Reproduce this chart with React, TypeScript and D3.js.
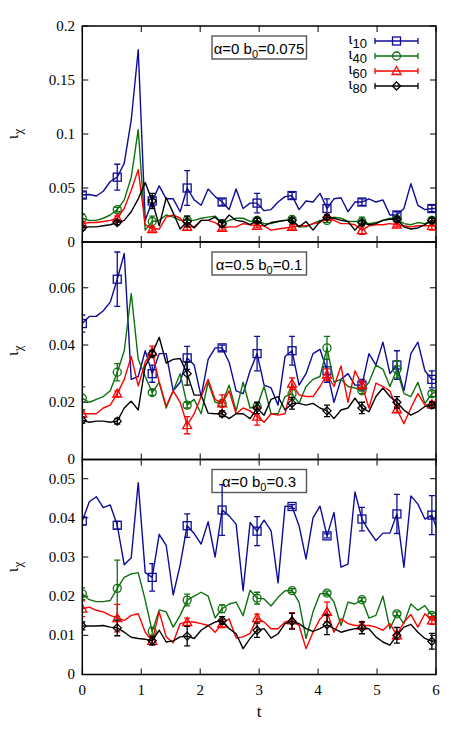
import React from 'react';
import * as d3 from 'd3';

// sampling times (regular grid)
const T_STEP = 0.1186;
const T = d3.range(52).map((i) => i * T_STEP);
const MARK_IDX = d3.range(0, 51, 5);
const X_TICKS = [0, 1, 2, 3, 4, 5, 6];

// ---- panel 1 : alpha=0 b0=0.075
const B1 = [0.0435,0.044,0.0426,0.047,0.056,0.060,0.073,0.113,0.178,0.020, 0.038,0.052,0.040,0.040,0.028,0.050,0.039,0.034,0.049,0.042, 0.037,0.030,0.049,0.031,0.036,0.036,0.029,0.030,0.037,0.042, 0.043,0.030,0.038,0.037,0.045,0.031,0.040,0.041,0.028,0.037, 0.037,0.040,0.037,0.039,0.025,0.025,0.031,0.054,0.034,0.030, 0.031,0.031];
const G1 = [0.022,0.020,0.020,0.022,0.025,0.030,0.039,0.060,0.104,0.011, 0.019,0.020,0.025,0.023,0.020,0.020,0.020,0.022,0.023,0.024, 0.017,0.020,0.022,0.022,0.019,0.020,0.017,0.017,0.019,0.020, 0.021,0.014,0.014,0.017,0.020,0.020,0.023,0.022,0.019,0.019, 0.019,0.017,0.018,0.020,0.022,0.021,0.017,0.016,0.018,0.017, 0.020,0.020];
const R1 = [0.017,0.018,0.018,0.019,0.020,0.022,0.031,0.048,0.067,0.016, 0.012,0.012,0.023,0.025,0.022,0.014,0.014,0.020,0.020,0.018, 0.013,0.014,0.014,0.017,0.016,0.015,0.015,0.011,0.012,0.013, 0.014,0.015,0.015,0.017,0.018,0.023,0.020,0.017,0.017,0.016, 0.011,0.015,0.016,0.016,0.017,0.016,0.015,0.014,0.015,0.015, 0.015,0.015];
const K1 = [0.013,0.014,0.014,0.015,0.016,0.018,0.020,0.028,0.040,0.055, 0.038,0.015,0.041,0.027,0.012,0.019,0.013,0.020,0.020,0.023, 0.017,0.025,0.020,0.019,0.016,0.020,0.015,0.018,0.019,0.020, 0.020,0.014,0.019,0.011,0.019,0.023,0.022,0.020,0.019,0.011, 0.018,0.016,0.017,0.020,0.021,0.021,0.014,0.012,0.013,0.016, 0.020,0.020];
const EB1 = [0.003,0.012,0.005,0.016,0.003,0.009,0.003,0.009,0.003,0.003,0.003];
const EG1 = [0.004,0.002,0.005,0.004,0.002,0.002,0.002,0.002,0.004,0.002,0.002];
const ER1 = [0.002,0.002,0.002,0.003,0.002,0.002,0.002,0.002,0.004,0.002,0.004];
const EK1 = [0.002,0.002,0.007,0.005,0.003,0.002,0.002,0.002,0.002,0.002,0.002];

// ---- panel 2 : alpha=0.5 b0=0.1
const B2 = [0.0475,0.050,0.050,0.052,0.055,0.063,0.072,0.028,0.029,0.038, 0.030,0.037,0.037,0.024,0.027,0.0355,0.033,0.022,0.035,0.039, 0.039,0.034,0.024,0.023,0.031,0.037,0.026,0.025,0.019,0.036, 0.038,0.026,0.030,0.037,0.0385,0.031,0.020,0.028,0.030,0.026, 0.026,0.037,0.033,0.041,0.030,0.033,0.024,0.037,0.041,0.031, 0.028,0.028];
const G2 = [0.0214,0.020,0.021,0.022,0.024,0.0305,0.038,0.058,0.035,0.029, 0.0234,0.027,0.018,0.024,0.030,0.019,0.021,0.016,0.027,0.020, 0.0196,0.026,0.017,0.027,0.018,0.0185,0.0255,0.016,0.016,0.022, 0.023,0.0196,0.0255,0.028,0.029,0.039,0.027,0.028,0.0255,0.025, 0.024,0.027,0.033,0.0315,0.0255,0.0315,0.023,0.022,0.027,0.0196, 0.023,0.024];
const R2 = [0.016,0.016,0.016,0.018,0.019,0.023,0.028,0.036,0.0257,0.034, 0.0376,0.027,0.0187,0.024,0.020,0.012,0.016,0.022,0.028,0.021, 0.0196,0.024,0.016,0.018,0.017,0.015,0.013,0.016,0.0155,0.016, 0.0265,0.0226,0.022,0.022,0.0255,0.0297,0.0255,0.0327,0.020,0.031, 0.026,0.018,0.0267,0.0255,0.024,0.0175,0.0125,0.018,0.023,0.019, 0.0193,0.0193];
const K2 = [0.0137,0.013,0.0134,0.0134,0.013,0.0134,0.018,0.0204,0.0173,0.0326, 0.037,0.0427,0.0337,0.035,0.0353,0.030,0.0225,0.0225,0.0162,0.016, 0.016,0.0143,0.016,0.016,0.0143,0.018,0.0155,0.021,0.022,0.0173, 0.0196,0.0196,0.019,0.0196,0.018,0.017,0.0143,0.0173,0.018,0.0214, 0.018,0.0167,0.022,0.025,0.022,0.020,0.0173,0.0155,0.0167,0.0185, 0.019,0.019];
const EB2 = [0.003,0.0095,0.003,0.004,0.001,0.006,0.005,0.004,0.002,0.005,0.003];
const EG2 = [0.004,0.003,0.001,0.001,0.001,0.001,0.002,0.004,0.001,0.003,0.001];
const ER2 = [0.001,0.001,0.002,0.003,0.003,0.003,0.002,0.002,0.001,0.001,0.001];
const EK2 = [0.001,0.001,0.001,0.004,0.001,0.002,0.002,0.002,0.002,0.002,0.001];

// ---- panel 3 : alpha=0 b0=0.3
const B3 = [0.0392,0.0441,0.0454,0.0426,0.0433,0.0381,0.028,0.0298,0.049,0.026, 0.0248,0.0358,0.033,0.0203,0.028,0.038,0.036,0.0333,0.039,0.030, 0.042,0.0405,0.0384,0.0214,0.0388,0.0366,0.0394,0.0367,0.0234,0.043, 0.0429,0.038,0.0295,0.040,0.043,0.0354,0.0414,0.0274,0.0282,0.0466, 0.0397,0.0367,0.0342,0.0361,0.0361,0.041,0.0274,0.0456,0.0435,0.0397, 0.0407,0.0358];
const G3 = [0.0206,0.0191,0.0186,0.0186,0.0189,0.022,0.0248,0.0257,0.026,0.019, 0.011,0.0165,0.016,0.0121,0.0151,0.019,0.020,0.021,0.020,0.0145, 0.0168,0.018,0.0185,0.015,0.0215,0.0195,0.0193,0.0175,0.0197,0.0214, 0.0214,0.0185,0.0092,0.016,0.0206,0.0208,0.0185,0.0125,0.0185,0.018, 0.0191,0.0144,0.0151,0.020,0.0117,0.0155,0.013,0.018,0.0164,0.0176, 0.0151,0.0147];
const R3 = [0.0168,0.0172,0.0164,0.016,0.0151,0.0144,0.0138,0.0151,0.0155,0.0108, 0.0086,0.016,0.0096,0.0081,0.013,0.0134,0.0134,0.013,0.0125,0.0108, 0.013,0.0142,0.0093,0.0096,0.0105,0.0144,0.0134,0.0117,0.0117,0.0134, 0.0138,0.0125,0.0066,0.0108,0.0142,0.016,0.0108,0.0142,0.013,0.0125, 0.0125,0.0125,0.0121,0.0113,0.013,0.01,0.0134,0.0153,0.0121,0.0155, 0.0138,0.0147];
const K3 = [0.0124,0.0124,0.0124,0.0125,0.0121,0.0119,0.0108,0.0095,0.0092,0.009, 0.0086,0.0113,0.0083,0.0086,0.0096,0.0098,0.0092,0.0113,0.0125,0.0134, 0.0138,0.0117,0.0104,0.0066,0.0092,0.0113,0.0117,0.0093,0.0104,0.013, 0.0136,0.013,0.0117,0.011,0.0117,0.0127,0.0117,0.0108,0.0113,0.0117, 0.0119,0.0117,0.0096,0.0083,0.0075,0.01,0.0121,0.0128,0.0108,0.0092, 0.0085,0.0087];
const EB3 = [0.001,0.001,0.0035,0.003,0.0065,0.0037,0.0005,0.0005,0.003,0.005,0.005];
const EG3 = [0.0015,0.0072,0.001,0.0015,0.001,0.0015,0.0005,0.0005,0.0005,0.0005,0.0005];
const ER3 = [0.002,0.0035,0.001,0.001,0.001,0.001,0.002,0.0025,0.001,0.001,0.001];
const EK3 = [0.001,0.002,0.001,0.0025,0.001,0.0018,0.002,0.0025,0.0015,0.002,0.002];

const SERIES_NAMES = ['10', '40', '60', '80'];
const COLORS = ['#0c0c98', '#0f700f', '#ff0000', '#000000'];
const SHAPES = ['square', 'circle', 'triangle', 'diamond'];

const Y1_TICKS = [0, 0.05, 0.1, 0.15, 0.2];
const Y2_TICKS = [0, 0.02, 0.04, 0.06];
const Y3_TICKS = [0, 0.01, 0.02, 0.03, 0.04, 0.05];

const PANELS = [
  { alpha: '0', b0: '0.075', top: 26, bottom: 242, ymax: 0.2, ticks: Y1_TICKS, lines: [B1, G1, R1, K1], errs: [EB1, EG1, ER1, EK1], legend: true },
  { alpha: '0.5', b0: '0.1', top: 242, bottom: 459.5, ymax: 0.076, ticks: Y2_TICKS, lines: [B2, G2, R2, K2], errs: [EB2, EG2, ER2, EK2], legend: false },
  { alpha: '0', b0: '0.3', top: 459.5, bottom: 674.5, ymax: 0.0549, ticks: Y3_TICKS, lines: [B3, G3, R3, K3], errs: [EB3, EG3, ER3, EK3], legend: false },
];

const X0 = 82.3;
const X1 = 436;
const x = d3.scaleLinear().domain([0, 6]).range([X0, X1]);

function Marker({ shape, cx, cy, color }: { shape: string; cx: number; cy: number; color: string }) {
  const sw = 1.3;
  if (shape === 'square') return <rect x={cx - 4} y={cy - 4} width={8} height={8} fill="none" stroke={color} strokeWidth={sw} />;
  if (shape === 'circle') return <circle cx={cx} cy={cy} r={4} fill="none" stroke={color} strokeWidth={sw} />;
  if (shape === 'triangle') return <path d={`M${cx},${cy - 4.5}L${cx + 4.5},${cy + 3.5}L${cx - 4.5},${cy + 3.5}Z`} fill="none" stroke={color} strokeWidth={sw} />;
  return <path d={`M${cx},${cy - 4}L${cx + 4},${cy}L${cx},${cy + 4}L${cx - 4},${cy}Z`} fill="none" stroke={color} strokeWidth={sw} />;
}

function Panel({ p, idx }: { p: any; idx: number }) {
  const y = d3.scaleLinear().domain([0, p.ymax]).range([p.bottom, p.top]);
  const line = d3.line<number>().x((_, i) => x(T[i])).y((d) => y(d));
  const clipId = `clip${idx}`;
  const fmt = (v: number) => (v === 0 ? '0' : String(+v.toFixed(3)));
  return (
    <g>
      <defs>
        <clipPath id={clipId}>
          <rect x={X0} y={p.top} width={X1 - X0} height={p.bottom - p.top} />
        </clipPath>
      </defs>
      {p.ticks.map((v: number) => (
        <g key={'yt' + v}>
          <line x1={X0} x2={X0 + 6} y1={y(v)} y2={y(v)} stroke="#000" strokeWidth={1} />
          <line x1={X1 - 6} x2={X1} y1={y(v)} y2={y(v)} stroke="#000" strokeWidth={1} />
          <text x={75} y={y(v)} dy="0.33em" textAnchor="end" fontFamily="'Liberation Serif', serif" fontSize={15}>{fmt(v)}</text>
        </g>
      ))}
      {X_TICKS.map((v) => (
        <g key={'xt' + v}>
          <line x1={x(v)} x2={x(v)} y1={p.top} y2={p.top + 6} stroke="#000" strokeWidth={1} />
          <line x1={x(v)} x2={x(v)} y1={p.bottom - 6} y2={p.bottom} stroke="#000" strokeWidth={1} />
        </g>
      ))}
      <rect x={212} y={p.top + 10} width={94.5} height={23} fill="#fff" stroke="#555" strokeWidth={1.4} />
      <text x={259} y={p.top + 27.5} textAnchor="middle" fontFamily="'Liberation Sans', Arial, sans-serif" fontSize={15}>
        {'α=' + p.alpha + ' b'}
        <tspan fontSize={11} dy={4}>0</tspan>
        <tspan dy={-4}>{'=' + p.b0}</tspan>
      </text>
      <g clipPath={`url(#${clipId})`}>
        {p.lines.map((vals: number[], si: number) => (
          <g key={si}>
            <path d={line(vals) || ''} fill="none" stroke={COLORS[si]} strokeWidth={1.4} strokeLinejoin="round" />
            {MARK_IDX.map((mi, k) => {
              const cx = x(T[mi]);
              const v = vals[mi];
              const e = p.errs[si][k];
              const ya = y(v - e);
              const yb = y(v + e);
              return (
                <g key={mi}>
                  <line x1={cx} x2={cx} y1={ya} y2={yb} stroke={COLORS[si]} strokeWidth={1.3} />
                  <line x1={cx - 3} x2={cx + 3} y1={ya} y2={ya} stroke={COLORS[si]} strokeWidth={1.3} />
                  <line x1={cx - 3} x2={cx + 3} y1={yb} y2={yb} stroke={COLORS[si]} strokeWidth={1.3} />
                  <Marker shape={SHAPES[si]} cx={cx} cy={y(v)} color={COLORS[si]} />
                </g>
              );
            })}
          </g>
        ))}
      </g>
      <rect x={X0} y={p.top} width={X1 - X0} height={p.bottom - p.top} fill="none" stroke="#000" strokeWidth={1.5} />
      <text transform={`translate(18,${(p.top + p.bottom) / 2}) rotate(-90)`} textAnchor="middle" fontFamily="'Liberation Serif', serif" fontSize={17}>
        ι<tspan fontSize={13} dy={4}>χ</tspan>
      </text>
      {p.legend &&
        SERIES_NAMES.map((nm, si) => {
          const ly = 41 + si * 15;
          return (
            <g key={'lg' + si}>
              <text x={367} y={ly + 3} textAnchor="end" fontFamily="'Liberation Serif', serif" fontSize={16}>
                ι<tspan dy={4} fontSize={13} fontFamily="'Liberation Sans', Arial, sans-serif">{nm}</tspan>
              </text>
              <line x1={375} x2={418} y1={ly} y2={ly} stroke={COLORS[si]} strokeWidth={1.4} />
              <line x1={375} x2={375} y1={ly - 3} y2={ly + 3} stroke={COLORS[si]} strokeWidth={1.3} />
              <line x1={418} x2={418} y1={ly - 3} y2={ly + 3} stroke={COLORS[si]} strokeWidth={1.3} />
              <Marker shape={SHAPES[si]} cx={396.5} cy={ly} color={COLORS[si]} />
            </g>
          );
        })}
    </g>
  );
}

export default function App() {
  return (
    <svg width={463} height={729} style={{ position: 'absolute', left: 0, top: 0, background: '#fff' }}>
      <rect x={0} y={0} width={463} height={729} fill="#fff" />
      {PANELS.map((p, i) => (
        <Panel key={i} p={p} idx={i} />
      ))}
      {X_TICKS.map((v) => (
        <text key={'xl' + v} x={x(v)} y={695} textAnchor="middle" fontFamily="'Liberation Serif', serif" fontSize={15}>{v}</text>
      ))}
      <text x={259} y={717} textAnchor="middle" fontFamily="'Liberation Serif', serif" fontSize={17}>t</text>
    </svg>
  );
}
